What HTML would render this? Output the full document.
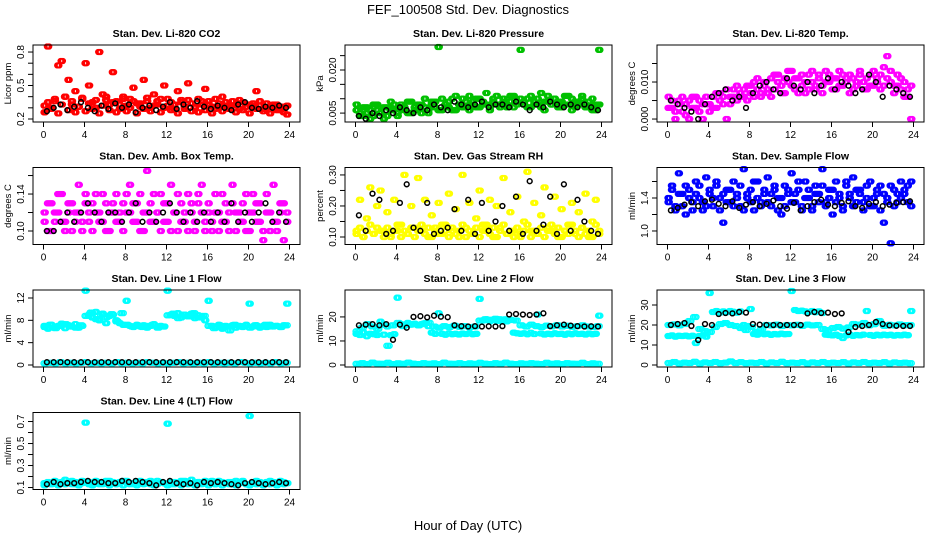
<!DOCTYPE html>
<html><head><meta charset="utf-8"><style>
body{margin:0;background:#fff;}
svg{display:block;font-family:"Liberation Sans",sans-serif;}
</style></head><body>
<svg id="c" width="936" height="540" viewBox="0 0 936 540">
<text x="468" y="14" text-anchor="middle" font-size="13">FEF_100508  Std. Dev. Diagnostics</text>
<text x="468" y="530" text-anchor="middle" font-size="13">Hour of Day (UTC)</text>
</svg>
<script>
// x ticks (hours)
const xTicks=[0,4,8,12,16,20,24];
// CO2
const co2Col=[0.32,0.85,0.30,0.36,0.68,0.72,0.40,0.55,0.33,0.45,0.31,0.38,0.70,0.50,0.35,0.30,0.80,0.42,0.37,0.33,0.62,0.36,0.29,0.40,0.32,0.38,0.48,0.34,0.31,0.55,0.36,0.30,0.42,0.33,0.38,0.50,0.32,0.35,0.29,0.45,0.37,0.31,0.52,0.34,0.30,0.38,0.33,0.47,0.36,0.31,0.29,0.34,0.40,0.32,0.30,0.36,0.33,0.29,0.35,0.31,0.33,0.30,0.45,0.32,0.29,0.34,0.31,0.30,0.33,0.28,0.31,0.32];
const co2Col2=[0.26,0.35,0.29,0.38,0.25,0.33,0.40,0.28,0.36,0.26,0.31,0.39,0.27,0.34,0.29,0.37,0.25,0.32,0.40,0.28,0.35,0.26,0.33,0.38,0.27,0.30,0.36,0.25,0.34,0.29,0.39,0.27,0.32,0.36,0.26,0.30,0.38,0.28,0.33,0.25,0.35,0.29,0.37,0.27,0.31,0.26,0.36,0.28,0.33,0.25,0.38,0.30,0.27,0.35,0.29,0.32,0.26,0.37,0.28,0.31,0.25,0.34,0.29,0.36,0.27,0.30,0.25,0.33,0.28,0.31,0.26,0.24];
const co2Blk=[0.27,0.30,0.33,0.28,0.31,0.35,0.30,0.27,0.32,0.29,0.34,0.30,0.33,0.26,0.30,0.32,0.28,0.31,0.35,0.29,0.33,0.30,0.36,0.31,0.29,0.32,0.30,0.28,0.33,0.35,0.30,0.29,0.31,0.30,0.32,0.30];
// Pressure
const presCol=[0.006,0.004,0.007,0.005,0.003,0.008,0.006,0.005,0.007,0.004,0.006,0.008,0.005,0.007,0.006,0.009,0.005,0.007,0.006,0.008,0.007,0.005,0.009,0.007,0.028,0.006,0.008,0.007,0.010,0.006,0.008,0.007,0.009,0.006,0.008,0.010,0.007,0.009,0.008,0.006,0.010,0.008,0.007,0.009,0.008,0.011,0.007,0.009,0.027,0.008,0.010,0.007,0.009,0.008,0.012,0.006,0.009,0.008,0.010,0.007,0.009,0.008,0.011,0.006,0.009,0.008,0.010,0.007,0.009,0.006,0.008,0.027];
const presCol2=[0.008,0.005,0.004,0.007,0.006,0.004,0.008,0.005,0.003,0.007,0.009,0.006,0.004,0.008,0.007,0.005,0.009,0.006,0.008,0.005,0.010,0.006,0.008,0.009,0.006,0.010,0.007,0.009,0.006,0.011,0.008,0.010,0.007,0.011,0.009,0.007,0.010,0.008,0.012,0.007,0.009,0.011,0.008,0.010,0.007,0.009,0.011,0.008,0.010,0.009,0.007,0.011,0.008,0.010,0.007,0.009,0.011,0.008,0.010,0.009,0.007,0.011,0.008,0.010,0.007,0.009,0.011,0.008,0.007,0.010,0.006,0.008];
const presBlk=[0.004,0.003,0.005,0.004,0.006,0.005,0.007,0.006,0.005,0.007,0.006,0.008,0.007,0.006,0.009,0.008,0.007,0.008,0.009,0.007,0.008,0.008,0.007,0.009,0.008,0.006,0.008,0.007,0.009,0.008,0.007,0.008,0.007,0.008,0.007,0.006];
// Li-820 temp
const tempCol=[0.006,0.003,0.000,0.005,0.002,0.004,0.000,0.006,0.003,0.005,0.000,0.004,0.002,0.006,0.003,0.007,0.004,0.000,0.006,0.008,0.005,0.007,0.006,0.009,0.007,0.010,0.008,0.006,0.009,0.007,0.011,0.008,0.012,0.009,0.007,0.010,0.013,0.008,0.011,0.009,0.007,0.012,0.010,0.008,0.011,0.009,0.013,0.010,0.008,0.011,0.009,0.012,0.010,0.007,0.011,0.009,0.013,0.010,0.008,0.012,0.009,0.011,0.008,0.014,0.017,0.010,0.007,0.009,0.011,0.006,0.008,0.000];
const tempCol2=[0.003,0.005,0.002,0.004,0.006,0.001,0.005,0.003,0.006,0.002,0.004,0.006,0.004,0.003,0.007,0.005,0.006,0.008,0.004,0.006,0.009,0.006,0.008,0.005,0.009,0.006,0.011,0.007,0.010,0.008,0.006,0.012,0.010,0.007,0.011,0.013,0.009,0.011,0.007,0.012,0.010,0.008,0.013,0.009,0.012,0.007,0.010,0.012,0.011,0.008,0.013,0.009,0.011,0.012,0.008,0.010,0.012,0.008,0.011,0.009,0.013,0.010,0.012,0.009,0.011,0.013,0.009,0.012,0.008,0.010,0.006,0.009];
const tempBlk=[0.005,0.004,0.003,0.002,0.000,0.004,0.006,0.007,0.008,0.005,0.006,0.003,0.007,0.009,0.010,0.008,0.007,0.011,0.009,0.008,0.010,0.007,0.009,0.011,0.008,0.010,0.009,0.007,0.008,0.012,0.010,0.006,0.009,0.008,0.007,0.006];
// Amb box temp
const ambCol=[0.12,0.10,0.13,0.11,0.12,0.14,0.11,0.13,0.10,0.12,0.15,0.11,0.13,0.12,0.10,0.14,0.12,0.11,0.13,0.10,0.12,0.14,0.11,0.13,0.12,0.15,0.11,0.13,0.10,0.12,0.165,0.11,0.14,0.12,0.10,0.13,0.11,0.15,0.12,0.10,0.13,0.11,0.14,0.12,0.10,0.13,0.15,0.11,0.12,0.10,0.14,0.12,0.11,0.13,0.10,0.15,0.12,0.11,0.13,0.10,0.12,0.14,0.11,0.13,0.09,0.12,0.10,0.15,0.11,0.13,0.09,0.12];
const ambCol2=[0.11,0.13,0.10,0.12,0.14,0.11,0.10,0.12,0.13,0.11,0.12,0.10,0.14,0.11,0.13,0.12,0.11,0.14,0.10,0.12,0.13,0.11,0.12,0.10,0.14,0.12,0.13,0.11,0.14,0.10,0.12,0.13,0.11,0.12,0.14,0.11,0.13,0.10,0.12,0.14,0.11,0.12,0.10,0.13,0.11,0.14,0.12,0.10,0.13,0.11,0.12,0.10,0.14,0.11,0.12,0.13,0.10,0.12,0.11,0.14,0.10,0.12,0.13,0.11,0.10,0.14,0.12,0.11,0.10,0.12,0.13,0.11];
const ambBlk=[0.10,0.10,0.11,0.12,0.11,0.12,0.13,0.12,0.11,0.12,0.12,0.11,0.12,0.13,0.11,0.12,0.11,0.12,0.13,0.12,0.11,0.12,0.11,0.12,0.11,0.12,0.11,0.13,0.11,0.12,0.11,0.12,0.13,0.11,0.12,0.11];
// RH
const rhCol=[0.12,0.22,0.10,0.16,0.26,0.11,0.13,0.25,0.12,0.18,0.10,0.22,0.12,0.14,0.30,0.11,0.20,0.13,0.29,0.12,0.22,0.10,0.17,0.13,0.21,0.11,0.14,0.24,0.12,0.19,0.10,0.30,0.13,0.21,0.11,0.16,0.25,0.12,0.14,0.22,0.10,0.20,0.13,0.29,0.11,0.18,0.12,0.23,0.10,0.15,0.31,0.12,0.21,0.11,0.17,0.26,0.13,0.12,0.23,0.10,0.19,0.12,0.14,0.21,0.11,0.18,0.13,0.24,0.10,0.15,0.22,0.12];
const rhCol2=[0.11,0.13,0.10,0.12,0.14,0.11,0.20,0.12,0.10,0.13,0.11,0.12,0.14,0.10,0.12,0.11,0.13,0.10,0.12,0.14,0.11,0.13,0.10,0.12,0.11,0.14,0.12,0.10,0.13,0.11,0.12,0.14,0.10,0.12,0.11,0.13,0.10,0.14,0.12,0.11,0.13,0.10,0.12,0.14,0.11,0.12,0.10,0.13,0.11,0.12,0.14,0.10,0.12,0.11,0.13,0.10,0.12,0.14,0.11,0.13,0.10,0.12,0.11,0.14,0.12,0.10,0.13,0.11,0.12,0.10,0.14,0.11];
const rhBlk=[0.17,0.12,0.24,0.22,0.11,0.12,0.21,0.27,0.13,0.12,0.21,0.11,0.12,0.13,0.19,0.12,0.22,0.11,0.21,0.12,0.15,0.20,0.12,0.23,0.11,0.28,0.12,0.14,0.23,0.11,0.27,0.12,0.22,0.15,0.12,0.11];
// Sample flow
const sfCol=[1.4,1.55,1.3,1.7,1.45,1.2,1.5,1.35,1.6,1.4,1.25,1.65,1.45,1.3,1.55,1.4,1.1,1.5,1.35,1.6,1.45,1.3,1.75,1.4,1.5,1.25,1.6,1.35,1.45,1.65,1.3,1.5,1.4,1.2,1.55,1.45,1.7,1.35,1.5,1.25,1.6,1.4,1.3,1.55,1.45,1.75,1.35,1.5,1.2,1.6,1.4,1.3,1.55,1.45,1.65,1.35,1.5,1.25,1.4,1.6,1.3,1.45,1.55,1.1,1.4,0.85,1.5,1.35,1.6,1.45,1.55,1.3];
const sfCol2=[1.35,1.5,1.25,1.45,1.3,1.55,1.4,1.25,1.45,1.55,1.35,1.3,1.5,1.4,1.6,1.25,1.45,1.35,1.5,1.3,1.4,1.55,1.25,1.45,1.35,1.6,1.4,1.3,1.5,1.35,1.45,1.55,1.25,1.4,1.3,1.5,1.35,1.45,1.6,1.3,1.4,1.5,1.25,1.45,1.35,1.55,1.3,1.4,1.5,1.35,1.45,1.25,1.6,1.4,1.3,1.5,1.45,1.35,1.55,1.3,1.4,1.5,1.25,1.45,1.35,1.55,1.3,1.45,1.4,1.5,1.35,1.6];
const sfBlk=[1.25,1.28,1.32,1.35,1.3,1.36,1.38,1.33,1.3,1.36,1.28,1.32,1.35,1.3,1.33,1.37,1.3,1.27,1.34,1.25,1.3,1.35,1.38,1.32,1.3,1.34,1.36,1.3,1.28,1.33,1.35,1.3,1.32,1.34,1.35,1.36];
// Line 1
const l1Col=[7,6.5,7.2,6.8,7,7.4,6.6,7.1,6.9,7.3,6.7,7,13.3,9,8.5,9.5,8,9.2,7.5,8.8,9,8,7.5,7.2,11.5,7,6.8,7.2,6.9,7.1,6.7,7,7.3,6.8,7,6.9,13.3,9,8.8,9.3,8.5,9,8.7,9.2,8.4,8.9,8.6,8,11.5,7,6.8,7.2,6.5,7,6.9,7.1,6.7,7,6.8,7.2,11,6.9,7.1,6.7,7,6.8,7.2,6.9,7,6.8,7.1,11];
const l1Col2=[6.8,7.2,6.6,7,7.3,6.9,6.7,7.1,8.8,9.4,8.2,9,8.6,9.1,7.8,9.3,7.2,6.9,7.1,6.8,7,7.2,6.7,6.9,8.9,9.2,8.4,9,8.7,9.3,8.5,8.8,7,6.6,7.1,6.8,6.2,7.2,6.9,7,6.7,7.1,6.8,7.2,6.9,7,6.8,7.1];
const l1Blk=[0.5,0.5,0.5,0.5,0.5,0.5,0.5,0.5,0.5,0.5,0.5,0.5,0.5,0.5,0.5,0.5,0.5,0.5,0.5,0.5,0.5,0.5,0.5,0.5,0.5,0.5,0.5,0.5,0.5,0.5,0.5,0.5,0.5,0.5,0.5,0.5];
const l1Base=[0.3,0.4,0.3,0.5,0.3,0.4,0.3,0.4,0.5,0.3,0.4,0.3,0.4,0.3,0.5,0.3,0.4,0.3,0.4,0.3,0.5,0.4,0.3,0.4,0.3,0.4,0.5,0.3,0.4,0.3,0.4,0.3,0.5,0.3,0.4,0.3,0.4,0.3,0.5,0.4,0.3,0.4,0.3,0.4,0.3,0.5,0.3,0.4];
// Line 2
const l2Col=[13,12.5,13.5,12,13,12.8,12.5,18,12.6,16,12.4,12.8,28,17,16.5,17.5,16.8,17.2,16.6,17,17.4,16.2,13.5,13,21.5,13,12.6,13.2,12.8,13,12.7,13.1,12.9,13.2,12.8,13,27.5,18.5,19,18.2,18.8,18.4,19,18.6,18.2,18.8,13.5,13.2,13,13.2,12.8,13.4,12.9,21,13.1,12.7,13,12.8,13.2,12.9,13,12.6,13.1,12.8,13.2,12.9,13,12.7,13.1,12.8,13,20.5];
const l2Col2=[14,15.5,17,16,15,16.8,8,16.5,17.5,16.2,16.8,17,16.5,17.2,17.5,16,15.5,16.2,15.8,16.4,15.9,16.2,15.7,16,18.5,19,18.8,19.2,18.4,19,18.7,18.5,16.5,16,16.8,16.2,15.8,16.4,16.1,16.6,16,16.3,15.9,16.2,16.5,16,15.8,16.2];
const l2Blk=[16.5,16.8,17,16.5,17,10.5,16.8,15.5,20,20.3,19.8,20.5,20.1,19.9,16.5,16.2,16,16.2,16,16.1,16,16.2,21,21.2,21,20.8,21,21.5,16.2,16.5,16.8,16.4,16.2,16,16.1,16];
const l2Base=[0.5,0.8,0.4,1,0.6,0.5,0.9,0.4,0.7,0.5,1,0.6,0.4,0.8,0.5,0.7,0.4,1,0.6,0.5,0.8,0.4,0.7,0.5,0.9,0.6,0.4,0.8,0.5,1,0.6,0.4,0.7,0.5,0.8,0.6,0.4,0.9,0.5,0.7,0.4,0.8,0.6,0.5,0.9,0.4,0.7,0.5];
// Line 3
const l3Col=[14.5,14.8,14.2,14.6,14.5,14.7,14.3,14.6,11,14.5,14.8,14.2,36,26.5,27,26.2,26.8,26.4,27,26.6,26.2,26.8,20,19.5,28,15.5,15.2,15.8,15.4,15.6,15.1,15.5,15.3,15.7,15.4,15.5,37,27.5,27,27.2,26.8,26.5,27,26.4,26.8,26,15.2,15,14.8,15.2,14.5,13.5,14.8,15.2,14.6,15,14.8,15.2,27,15,14.6,15.1,14.8,15.2,14.9,15.1,14.7,15,14.8,15.2,14.9,27];
const l3Col2=[20,20.3,19.8,20.5,22,24,18,17,16.5,19,20.5,21,20,19.5,18.5,17.5,19,16.5,18,20,19.8,20.2,19.5,20,19.8,20.1,19.6,20.2,19.8,20,18,17.5,18.5,19,18.2,18.8,20.5,20.2,21,19.8,20.4,22,19.6,20.1,19.8,20.3,19.9,20];
const l3Blk=[20,20.5,21,19.5,12.5,20.5,20,25.5,26,25.8,26.5,26.2,20.5,20.2,20,20,20,20,20,20,25.8,26.5,26,26.2,25.5,25.8,16.5,19,19.5,20,21.5,20.5,19.8,19.6,19.5,19.5];
const l3Base=[1,1.5,0.8,1.2,1,1.6,0.8,1.3,1,1.5,0.9,1.2,1.8,1,1.4,0.9,1.2,1,1.5,0.8,1.3,1,1.6,0.9,1.2,1,1.4,0.8,1.3,1,1.5,0.9,1.2,1,1.4,0.8,1.3,1,1.5,0.9,1.2,1,1.4,0.8,1.3,1,1.2,0.9];
// Line 4
const l4Col=[0.14,0.15,0.13,0.16,0.14,0.15,0.17,0.14,0.13,0.15,0.14,0.16,0.69,0.15,0.14,0.16,0.13,0.15,0.14,0.16,0.15,0.13,0.14,0.16,0.15,0.14,0.13,0.15,0.16,0.14,0.15,0.13,0.14,0.16,0.15,0.14,0.68,0.15,0.13,0.14,0.16,0.15,0.14,0.17,0.13,0.15,0.14,0.16,0.15,0.14,0.13,0.16,0.15,0.14,0.15,0.13,0.16,0.14,0.15,0.13,0.75,0.14,0.16,0.15,0.13,0.14,0.16,0.15,0.14,0.16,0.15,0.14];
const l4Col2=[0.12,0.14,0.13,0.15,0.12,0.14,0.13,0.15,0.16,0.13,0.12,0.14,0.15,0.13,0.12,0.14,0.15,0.13,0.16,0.12,0.14,0.13,0.15,0.12,0.16,0.13,0.14,0.12,0.15,0.13,0.14,0.16,0.12,0.13,0.15,0.14,0.12,0.13,0.15,0.14,0.12,0.16,0.13,0.14,0.12,0.15,0.13,0.14,0.12,0.16,0.13,0.15,0.12,0.14,0.13,0.15,0.12,0.14,0.16,0.13,0.12,0.15,0.13,0.14,0.12,0.15,0.13,0.14,0.12,0.15,0.13,0.14];
const l4Blk=[0.13,0.15,0.13,0.14,0.14,0.15,0.16,0.15,0.15,0.14,0.14,0.16,0.15,0.16,0.15,0.14,0.12,0.15,0.16,0.14,0.13,0.14,0.12,0.15,0.14,0.15,0.14,0.13,0.12,0.14,0.15,0.14,0.13,0.14,0.15,0.14];

const NS='http://www.w3.org/2000/svg';
const svg=document.getElementById('c');
function mk(tag,attrs,parent){const e=document.createElementNS(NS,tag);for(const k in attrs)e.setAttribute(k,attrs[k]);(parent||svg).appendChild(e);return e;}

const panels=[
 {t:'Stan. Dev. Li-820 CO2',yl:'Licor ppm',lo:0.173,hi:0.863,ticks:[0.2,0.3,0.4,0.5,0.6,0.7,0.8],labs:['0.2','','','0.5','','','0.8'],s:[[co2Col2,'#ff0000','c'],[co2Col,'#ff0000','c'],[co2Blk,'#000','b']]},
 {t:'Stan. Dev. Li-820 Pressure',yl:'kPa',lo:0.0019,hi:0.0287,ticks:[0.005,0.010,0.015,0.020,0.025],labs:['0.005','','','0.020',''],s:[[presCol2,'#00c000','c'],[presCol,'#00c000','c'],[presBlk,'#000','b']]},
 {t:'Stan. Dev. Li-820 Temp.',yl:'degrees C',lo:-0.0008,hi:0.020,ticks:[0,0.005,0.010,0.015],labs:['0.000','','0.010',''],s:[[tempCol2,'#ff00ff','c'],[tempCol,'#ff00ff','c'],[tempBlk,'#000','b']]},
 {t:'Stan. Dev. Amb. Box Temp.',yl:'degrees C',lo:0.0854,hi:0.1687,ticks:[0.10,0.12,0.14,0.16],labs:['0.10','','0.14',''],s:[[ambCol2,'#ff00ff','c'],[ambCol,'#ff00ff','c'],[ambBlk,'#000','b']]},
 {t:'Stan. Dev. Gas Stream RH',yl:'percent',lo:0.0758,hi:0.324,ticks:[0.10,0.15,0.20,0.25,0.30],labs:['0.10','','0.20','','0.30'],s:[[rhCol2,'#ffff00','c'],[rhCol,'#ffff00','c'],[rhBlk,'#000','b']]},
 {t:'Stan. Dev. Sample Flow',yl:'ml/min',lo:0.836,hi:1.77,ticks:[1.0,1.2,1.4,1.6],labs:['1.0','','1.4',''],s:[[sfCol2,'#0000ff','c'],[sfCol,'#0000ff','c'],[sfBlk,'#000','b']]},
 {t:'Stan. Dev. Line 1 Flow',yl:'ml/min',lo:-0.36,hi:13.43,ticks:[0,4,8,12],labs:['0','4','8','12'],s:[[l1Base,'#00ffff','c'],[l1Col2,'#00ffff','c'],[l1Col,'#00ffff','c'],[l1Blk,'#000','b']]},
 {t:'Stan. Dev. Line 2 Flow',yl:'ml/min',lo:-0.83,hi:31.2,ticks:[0,10,20],labs:['0','10','20'],s:[[l2Base,'#00ffff','c'],[l2Col2,'#00ffff','c'],[l2Col,'#00ffff','c'],[l2Blk,'#000','b']]},
 {t:'Stan. Dev. Line 3 Flow',yl:'ml/min',lo:-1,hi:37.5,ticks:[0,10,20,30],labs:['0','10','20','30'],s:[[l3Base,'#00ffff','c'],[l3Col2,'#00ffff','c'],[l3Col,'#00ffff','c'],[l3Blk,'#000','b']]},
 {t:'Stan. Dev. Line 4 (LT) Flow',yl:'ml/min',lo:0.082,hi:0.782,ticks:[0.1,0.2,0.3,0.4,0.5,0.6,0.7],labs:['0.1','','0.3','','0.5','','0.7'],s:[[l4Col2,'#00ffff','c'],[l4Col,'#00ffff','c'],[l4Blk,'#000','b']]}
];

panels.forEach((p,idx)=>{
 const c=idx%3,r=Math.floor(idx/3);
 const L=33+312*c,T=45+122.5*r,W=267,H=77;
 const g=mk('g',{});
 
 
 const xs=h=>L+10.5+h*246/24;
 const ys=v=>T+H-(v-p.lo)/(p.hi-p.lo)*H;
 const tt=mk('text',{x:L+W/2,y:T-8,'text-anchor':'middle','font-size':'10.5','font-weight':'bold'},g);tt.textContent=p.t;
 
 
 p.s.forEach(([arr,col,kind])=>{
  const sg=mk('g',{fill:'none',stroke:col,'stroke-width':'1.5'},g);
  
  
  const n=arr.length, dt=24/n;
  const copies=kind==='c'?Math.max(3,Math.round(144/n)):1;
  arr.forEach((v,i)=>{
   for(let k=0;k<copies;k++){
    const h=kind==='b'? i*dt+0.33 : i*dt+k*dt/copies;
    const cc=mk('circle',{cx:xs(h).toFixed(1),cy:ys(v).toFixed(1),r:'2.4'},sg);
    
    
   }
  });
 });
 const box=mk('rect',{x:L,y:T,width:W,height:H,fill:'none',stroke:'#000','stroke-width':'1'},g);
 
 
 xTicks.forEach(h=>{
  const x=xs(h);
  mk('line',{x1:x,x2:x,y1:T+H,y2:T+H+5,stroke:'#000'},g);
  const tl=mk('text',{x:x,y:T+H+16,'text-anchor':'middle','font-size':'10'},g);tl.textContent=h;
  
  
 });
 p.ticks.forEach((v,i)=>{
  const y=ys(v);
  mk('line',{x1:L-5,x2:L,y1:y,y2:y,stroke:'#000'},g);
  if(p.labs[i]){
   const yl=mk('text',{x:L-9,y:y,'text-anchor':'middle','font-size':'10',transform:'rotate(-90 '+(L-9)+' '+y+')'},g);yl.textContent=p.labs[i];
   
   
  }
 });
 const ya=mk('text',{x:L-22,y:T+H/2,'text-anchor':'middle','font-size':'9.5',transform:'rotate(-90 '+(L-22)+' '+(T+H/2)+')'},g);ya.textContent=p.yl;
 
 
});
</script>
</body></html>
